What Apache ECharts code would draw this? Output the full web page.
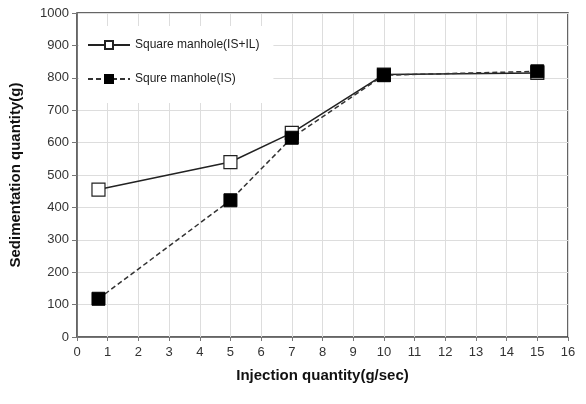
<!DOCTYPE html>
<html><head><meta charset="utf-8">
<script src="https://cdn.jsdelivr.net/npm/echarts@6/dist/echarts.min.js"></script>
<style>html,body{margin:0;padding:0;background:#fff}#c{width:586px;height:404px}</style>
</head><body><div id="c"></div>
<script>
const xValues = [0.7, 5, 7, 10, 15];
const seriesNames = ['Square manhole(IS+IL)', 'Squre manhole(IS)'];
const isIlValues = [455, 540, 630, 810, 815];
const isValues = [118, 422, 615, 808, 820];

const chart = echarts.init(document.getElementById('c'));
const font = 'Liberation Sans, Arial, sans-serif';
chart.setOption({
  animation: false,
  backgroundColor: '#fff',
  grid: { left: 77, right: 18, top: 13, bottom: 67, show: true, borderColor: '#333', borderWidth: 1.5 },
  legend: {
    left: 79, top: 26, orient: 'vertical', itemGap: 22, itemWidth: 42, itemHeight: 10,
    padding: [13, 14, 18, 8], backgroundColor: '#fff',
    textStyle: { fontFamily: font, fontSize: 12, color: '#222' },
    data: seriesNames
  },
  xAxis: {
    type: 'value', min: 0, max: 16, interval: 1,
    name: 'Injection quantity(g/sec)', nameLocation: 'middle', nameGap: 31,
    nameTextStyle: { fontFamily: font, fontSize: 15, fontWeight: 'bold', color: '#111' },
    axisLine: { show: true, lineStyle: { color: '#777' } },
    axisTick: { show: true, length: 4, lineStyle: { color: '#777' } },
    axisLabel: { fontFamily: font, fontSize: 13, color: '#333', margin: 9 },
    splitLine: { show: true, lineStyle: { color: '#ddd' } }
  },
  yAxis: {
    type: 'value', min: 0, max: 1000, interval: 100,
    name: 'Sedimentation quantity(g)', nameLocation: 'middle', nameGap: 54,
    nameTextStyle: { fontFamily: font, fontSize: 15, fontWeight: 'bold', color: '#111' },
    axisLine: { show: true, lineStyle: { color: '#777' } },
    axisTick: { show: true, length: 5, lineStyle: { color: '#777' } },
    axisLabel: { fontFamily: font, fontSize: 13, color: '#333', margin: 8, formatter: v => String(v) },
    splitLine: { show: true, lineStyle: { color: '#ddd' } }
  },
  series: [
    {
      name: seriesNames[0], type: 'line',
      data: xValues.map((x, i) => [x, isIlValues[i]]),
      symbol: 'rect', symbolSize: 13,
      lineStyle: { color: '#222', width: 1.5, type: 'solid' },
      itemStyle: { color: '#fff', borderColor: '#222', borderWidth: 1.2 }
    },
    {
      name: seriesNames[1], type: 'line',
      data: xValues.map((x, i) => [x, isValues[i]]),
      symbol: 'rect', symbolSize: 13,
      lineStyle: { color: '#333', width: 1.5, type: [5, 3] },
      itemStyle: { color: '#000', borderColor: '#000', borderWidth: 1 }
    }
  ]
});
</script></body></html>
